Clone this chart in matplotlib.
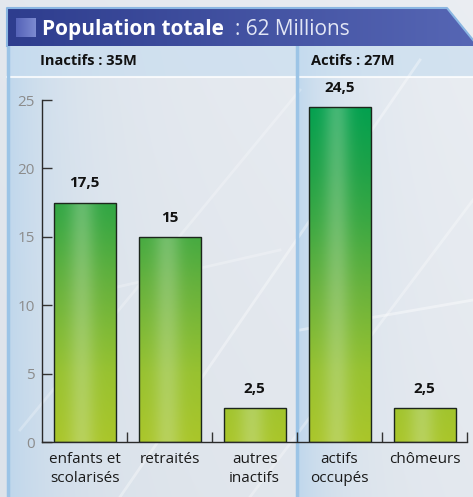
import numpy as np
import matplotlib
matplotlib.use('Agg')
import matplotlib.pyplot as plt
from matplotlib.colors import LinearSegmentedColormap, to_rgb
from matplotlib.patches import Polygon

plt.rcParams['font.family'] = ['Open Sans', 'DejaVu Sans']

# data
title = 'Population totale'
subtitle = ': 62 Millions'
groups = ['Inactifs : 35M', 'Actifs : 27M']
categories = ['enfants et\nscolarisés', 'retraités', 'autres\ninactifs',
              'actifs\noccupés', 'chômeurs']
values = [17.5, 15, 2.5, 24.5, 2.5]
value_labels = ['17,5', '15', '2,5', '24,5', '2,5']
yticks = [0, 5, 10, 15, 20, 25]

W, H = 473, 497
fig = plt.figure(figsize=(W / 100, H / 100), dpi=100)

# ---- background (pixel coordinates) ----
bg = fig.add_axes([0, 0, 1, 1], zorder=-10)
bg.set_xlim(0, W)
bg.set_ylim(H, 0)
bg.axis('off')

yy, xx = np.mgrid[0:H, 0:W].astype(float)
img = np.ones((H, W, 3)) * np.array(to_rgb('#dde3ea'))
lite = np.clip(0.55 * xx / W + 0.45 * (1 - yy / H), 0, 1)[..., None]
img = img * (1 - 0.7 * lite) + np.array(to_rgb('#f0f2f6')) * 0.7 * lite

# blue tint at the left edge of each panel
tint = np.zeros((H, W))
left_p = (xx >= 7) & (xx < 297)
right_p = xx >= 297
tint[left_p] = np.exp(-(xx[left_p] - 7) / 55)
tint[right_p] = np.exp(-(xx[right_p] - 297) / 40)
tint[yy < 45] = 0
tint = tint[..., None] * 0.75
img = img * (1 - tint) + np.array(to_rgb('#b4d2ec')) * tint

# header band
band = (yy >= 45) & (yy < 77) & (xx >= 7)
img[band] = img[band] * 0.35 + np.array(to_rgb('#c6dcef')) * 0.65
bg.imshow(img, extent=[0, W, H, 0], aspect='auto', zorder=0)

# diagonal light streaks from the photo
for (x0, y0, x1, y1, a) in [(120, 497, 420, 60, 0.35), (250, 497, 473, 200, 0.3),
                             (20, 430, 300, 90, 0.25), (300, 330, 473, 300, 0.4),
                             (60, 300, 280, 250, 0.25)]:
    bg.plot([x0, x1], [y0, y1], color='white', lw=2, alpha=a, zorder=1)

bg.plot([7, W], [77, 77], color='white', lw=1.5, alpha=0.8, zorder=2)
bg.plot([8, 8], [45, H], color='#9cc4e6', lw=2.5, zorder=2)
bg.plot([297, 297], [45, H], color='#9cc4e6', lw=2.5, zorder=2)

# title banner with gradient
banner = Polygon([(7, 8), (447, 8), (473, 40), (473, 46), (7, 46)], closed=True,
                 facecolor='none', edgecolor='none')
bg.add_patch(banner)
grad = np.linspace(0, 1, 200)[None, :, None]
bimg = np.array(to_rgb('#2e3d8e')) * (1 - grad) + np.array(to_rgb('#5666b4')) * grad
bimg = np.repeat(bimg, 10, axis=0)
im = bg.imshow(bimg, extent=[7, W, 46, 8], aspect='auto', zorder=3)
im.set_clip_path(banner)
bg.plot([7, 7, 447, 473], [46, 8, 8, 40], color='#8ab6e2', lw=1.5, zorder=4)

# small square icon
sq = np.linspace(0, 1, 20)
simg = np.array(to_rgb('#5563b8')) * (1 - sq[None, :, None]) + np.array(to_rgb('#7c8ad0')) * sq[None, :, None]
simg = np.repeat(simg, 20, axis=0)
bg.imshow(simg, extent=[16, 35, 37, 18], aspect='auto', zorder=4)
bg.set_xlim(0, W)
bg.set_ylim(H, 0)

# title texts
t = bg.text(42, 35, title, fontsize=15, fontweight='bold', color='white',
            va='baseline', zorder=5)
renderer = fig.canvas.get_renderer()
ext = t.get_window_extent(renderer)
bg.text(ext.x1 + 11, 35, subtitle, fontsize=15, color='#e2e6f5',
        va='baseline', zorder=5)
bg.text(40, 65, groups[0], fontsize=10.5, fontweight='bold', color='#111111',
        va='baseline', zorder=5)
bg.text(311, 65, groups[1], fontsize=10.5, fontweight='bold', color='#111111',
        va='baseline', zorder=5)

# ---- main chart ----
ax = fig.add_axes([42 / W, (H - 442) / H, (467 - 42) / W, (442 - 100) / H])
ax.patch.set_alpha(0)
x = np.arange(len(values))
bars = ax.bar(x, values, width=62 / 85, facecolor='none', edgecolor='#1c261c',
              lw=1, zorder=3)

cmap = LinearSegmentedColormap.from_list(
    'g', [(0, '#aac62a'), (0.2, '#98c230'), (0.45, '#68b23c'),
          (0.65, '#3aa843'), (0.8, '#1ea248'), (1, '#00a050')])
for b in bars:
    x0, w, h = b.get_x(), b.get_width(), b.get_height()
    ys = np.linspace(0, h, 200)
    col = cmap(ys / 25)[:, :3]
    xf = np.linspace(0, 1, 60)
    hl = 0.3 * np.exp(-((xf - 0.45) / 0.22) ** 2)
    hl = hl[None, :, None]
    bimg = np.clip(col[:, None, :] * (1 - hl) + np.array([0.85, 0.92, 0.8]) * hl, 0, 1)
    im = ax.imshow(bimg, extent=[x0, x0 + w, 0, h], origin='lower',
                   aspect='auto', zorder=2)
    im.set_clip_path(b)

for xi, v, lbl in zip(x, values, value_labels):
    ax.annotate(lbl, (xi, v), xytext=(0, 11), textcoords='offset points',
                ha='center', va='baseline', fontsize=11, fontweight='bold',
                color='#111111')

ax.set_xlim(-0.5, len(values) - 0.5)
ax.set_ylim(0, 25)
for s in ['top', 'right']:
    ax.spines[s].set_visible(False)
for s in ['left', 'bottom']:
    ax.spines[s].set_color('#2a2a2a')
    ax.spines[s].set_linewidth(1)

ax.set_yticks(yticks)
ax.tick_params(axis='y', direction='in', length=7, width=1, color='#333333',
               labelcolor='#8c8c8c', labelsize=11, pad=5)
ax.set_xticks(x, categories)
ax.tick_params(axis='x', which='major', length=0, pad=7, labelsize=11,
               labelcolor='#1a1a1a')
for lab in ax.get_xticklabels():
    lab.set_linespacing(1.4)
ax.set_xticks(x + 0.5, minor=True)
ax.tick_params(axis='x', which='minor', direction='in', length=7, width=1,
               color='#333333')

fig.savefig('out.png', dpi=100)
